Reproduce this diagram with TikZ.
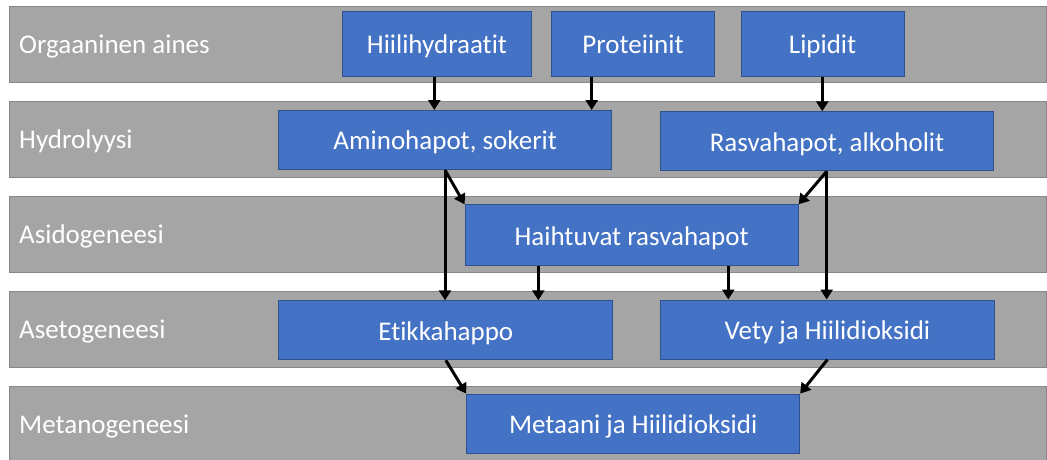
\documentclass[tikz,border=0pt]{standalone}
\usepackage{fontspec}
\setmainfont{Carlito}[Ligatures=NoCommon]
\usetikzlibrary{arrows.meta,calc}
\definecolor{bandgray}{HTML}{A5A5A5}
\definecolor{bandline}{HTML}{878787}
\definecolor{boxblue}{HTML}{4472C4}
\definecolor{boxline}{HTML}{2F528F}
\tikzset{
  band/.style={draw=bandline,fill=bandgray,line width=1pt,inner sep=0pt,minimum width=1037pt,minimum height=76pt},
  bandlabel/.style={anchor=west,text=white,font=\fontsize{27}{30}\selectfont,inner sep=0pt,text height=25.4pt,text depth=6.75pt},
  stagebox/.style={draw=boxline,fill=boxblue,line width=1pt,inner sep=0pt,text=white,font=\fontsize{27}{30}\selectfont,text height=26.5pt,text depth=6.75pt},
  flow/.style={line width=3pt,-{Triangle[width=12pt,length=10pt]}}
}
\begin{document}
\begin{tikzpicture}[x=1pt,y=-1pt]
\useasboundingbox (0,0) rectangle (1047,459);
\fill[white] (0,0) rectangle (1047,459);
% bands
\node[band] (b1) at (527.5,44) {};
\node[band] (b2) at (527.5,139.5) {};
\node[band] (b3) at (527.5,234.5) {};
\node[band] (b4) at (527.5,329.5) {};
\node[band,minimum height=80pt] (b5) at (527.5,426) {};
\node[bandlabel] (l1) at (19,44) {Orgaaninen aines};
\node[bandlabel] (l2) at (19,139.5) {Hydrolyysi};
\node[bandlabel] (l3) at (19,234.5) {Asidogeneesi};
\node[bandlabel] (l4) at (19,329.5) {Asetogeneesi};
\node[bandlabel] (l5) at (19,424) {Metanogeneesi};
% boxes
\node[stagebox,minimum width=189pt,minimum height=65pt] (hh) at (437,43.5) {Hiilihydraatit};
\node[stagebox,minimum width=163pt,minimum height=65pt] (pr) at (633,43.5) {Proteiinit};
\node[stagebox,minimum width=163pt,minimum height=65pt] (li) at (822.6,43.5) {Lipidit};
\node[stagebox,minimum width=333pt,minimum height=59pt] (am) at (445.2,140) {Aminohapot, sokerit};
\node[stagebox,minimum width=333pt,minimum height=59pt] (ra) at (827,141.3) {Rasvahapot, alkoholit};
\node[stagebox,minimum width=333pt,minimum height=61pt] (ha) at (631.6,235.3) {Haihtuvat rasvahapot};
\node[stagebox,minimum width=334pt,minimum height=59pt] (et) at (445.8,330.3) {Etikkahappo};
\node[stagebox,minimum width=334pt,minimum height=59pt] (ve) at (827.5,329.5) {Vety ja Hiilidioksidi};
\node[stagebox,minimum width=333pt,minimum height=59pt] (me) at (633.2,423.6) {Metaani ja Hiilidioksidi};
% x positions of vertical connectors
\coordinate (xhh) at (434.3,0);
\coordinate (xpr) at (591.7,0);
\coordinate (xli) at (822.3,0);
\coordinate (xam) at (445,0);
\coordinate (xra) at (826.7,0);
\coordinate (xh1) at (538.3,0);
\coordinate (xh2) at (728.3,0);
% connectors
\draw[flow] (hh.south -| xhh) -- (am.north -| xhh);
\draw[flow] (pr.south -| xpr) -- (am.north -| xpr);
\draw[flow] (li.south -| xli) -- (ra.north -| xli);
\draw[flow] (am.south -| xam) -- (ha.north west);
\draw[flow] (am.south -| xam) -- (et.north -| xam);
\draw[flow] (ra.south -| xra) -- (ha.north east);
\draw[flow] (ra.south -| xra) -- (ve.north -| xra);
\draw[flow] (ha.south -| xh1) -- (et.north -| xh1);
\draw[flow] (ha.south -| xh2) -- (ve.north -| xh2);
\draw[flow] (et.south) -- (me.north west);
\draw[flow] (ve.south) -- (me.north east);
\end{tikzpicture}
\end{document}
